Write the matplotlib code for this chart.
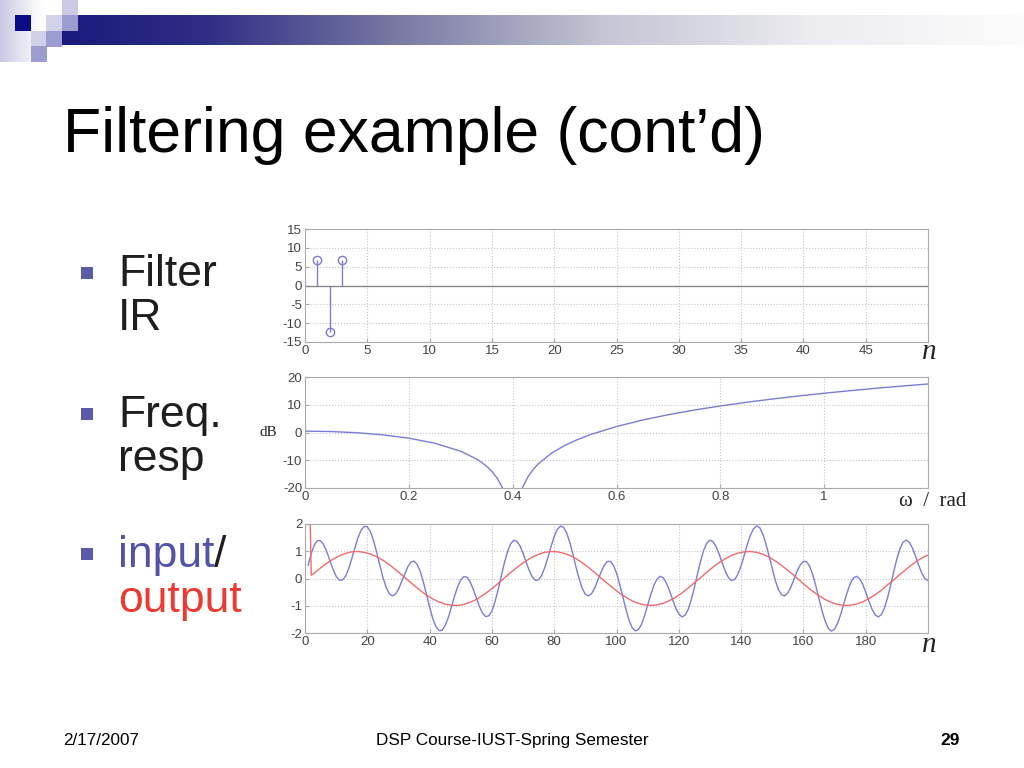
import matplotlib.pyplot as plt
from matplotlib.patches import Rectangle
from matplotlib.colors import LinearSegmentedColormap
import numpy as np

plt.rcParams['axes.unicode_minus'] = False

# filter impulse response (stem plot)
ir_n = [1, 2, 3]
ir_h = [6.7, -12.3, 6.7]

# magnitude response in dB
w = [0.0, 0.05, 0.1, 0.15, 0.2, 0.25, 0.3, 0.33, 0.34, 0.35, 0.36, 0.37, 0.38, 0.385,
     0.415, 0.42, 0.43, 0.44, 0.45, 0.475, 0.5, 0.525, 0.55, 0.6, 0.65, 0.7, 0.75,
     0.8, 0.85, 0.9, 0.95, 1.0, 1.05, 1.1, 1.15, 1.2]
h_db = [0.49, 0.35, -0.08, -0.85, -2.04, -3.86, -6.76, -9.51, -10.73, -12.2, -14.03,
        -16.42, -19.84, -22.28, -21.98, -19.43, -15.81, -13.21, -11.18, -7.42, -4.69,
        -2.54, -0.74, 2.16, 4.48, 6.42, 8.09, 9.56, 10.88, 12.07, 13.15, 14.15, 15.08,
        15.94, 16.74, 17.48]

# input signal (blue), n = 1..200
in_n = list(range(1, 201))
x_in = [0.49, 0.92, 1.23, 1.39, 1.39, 1.24, 0.98, 0.66, 0.34, 0.08,
        -0.06, -0.06, 0.08, 0.35, 0.72, 1.12, 1.49, 1.77, 1.91, 1.90,
        1.72, 1.39, 0.97, 0.50, 0.05, -0.31, -0.55, -0.64, -0.58, -0.40,
        -0.12, 0.17, 0.43, 0.60, 0.64, 0.52, 0.26, -0.13, -0.58, -1.04,
        -1.46, -1.76, -1.91, -1.90, -1.73, -1.43, -1.05, -0.65, -0.30, -0.05,
        0.07, 0.05, -0.12, -0.39, -0.71, -1.03, -1.27, -1.40, -1.37, -1.19,
        -0.85, -0.41, 0.08, 0.57, 0.98, 1.27, 1.40, 1.37, 1.20, 0.93,
        0.60, 0.29, 0.05, -0.07, -0.05, 0.12, 0.41, 0.78, 1.18, 1.54,
        1.80, 1.92, 1.88, 1.67, 1.33, 0.89, 0.42, -0.01, -0.36, -0.58,
        -0.64, -0.56, -0.35, -0.07, 0.22, 0.47, 0.62, 0.63, 0.49, 0.20,
        -0.20, -0.66, -1.12, -1.52, -1.80, -1.92, -1.88, -1.69, -1.37, -0.98,
        -0.59, -0.25, -0.02, 0.08, 0.03, -0.16, -0.44, -0.77, -1.08, -1.30,
        -1.41, -1.35, -1.14, -0.78, -0.33, 0.17, 0.64, 1.04, 1.30, 1.41,
        1.35, 1.16, 0.88, 0.55, 0.25, 0.02, -0.08, -0.03, 0.16, 0.47,
        0.85, 1.25, 1.59, 1.83, 1.93, 1.86, 1.62, 1.26, 0.81, 0.35,
        -0.08, -0.41, -0.60, -0.64, -0.53, -0.31, -0.02, 0.27, 0.50, 0.63,
        0.62, 0.45, 0.14, -0.27, -0.74, -1.19, -1.57, -1.83, -1.93, -1.86,
        -1.64, -1.31, -0.91, -0.53, -0.20, 0.01, 0.08, 0.00, -0.20, -0.50,
        -0.82, -1.12, -1.33, -1.41, -1.33, -1.09, -0.71, -0.25, 0.25, 0.72,
        1.09, 1.33, 1.41, 1.33, 1.12, 0.82, 0.49, 0.20, 0.00, -0.08]

# output signal (red); the first sample runs off the top of the axes
out_n = [1, 2] + list(range(3, 200, 2)) + [200]
y_out = [6.0, 0.12,
         0.20, 0.39, 0.56, 0.71, 0.83, 0.92, 0.98, 0.99, 0.96, 0.90,
         0.80, 0.67, 0.51, 0.33, 0.14, -0.06, -0.25, -0.44, -0.61, -0.75,
         -0.86, -0.94, -0.98, -0.99, -0.95, -0.87, -0.77, -0.62, -0.46, -0.28,
         -0.08, 0.12, 0.31, 0.49, 0.65, 0.79, 0.89, 0.96, 0.99, 0.98,
         0.93, 0.85, 0.73, 0.58, 0.41, 0.22, 0.02, -0.17, -0.36, -0.54,
         -0.69, -0.82, -0.91, -0.97, -0.99, -0.97, -0.91, -0.81, -0.69, -0.53,
         -0.35, -0.16, 0.03, 0.23, 0.42, 0.59, 0.73, 0.85, 0.93, 0.98,
         0.99, 0.96, 0.89, 0.78, 0.64, 0.48, 0.30, 0.11, -0.09, -0.29,
         -0.47, -0.63, -0.77, -0.88, -0.95, -0.99, -0.98, -0.94, -0.86, -0.74,
         -0.60, -0.43, -0.24, -0.05, 0.15, 0.34, 0.52, 0.68, 0.81,
         0.86]

ir_xticks = [0, 5, 10, 15, 20, 25, 30, 35, 40, 45]
ir_yticks = [-15, -10, -5, 0, 5, 10, 15]
fr_xticks = [0, 0.2, 0.4, 0.6, 0.8, 1]
fr_xlabels = ['0', '0.2', '0.4', '0.6', '0.8', '1']
fr_yticks = [-20, -10, 0, 10, 20]
io_xticks = [0, 20, 40, 60, 80, 100, 120, 140, 160, 180]
io_yticks = [-2, -1, 0, 1, 2]

bullets = ['Filter\nIR', 'Freq.\nresp']

BLUE = '#7c7cd6'
RED = '#ef6b6b'
SANS = ['Liberation Sans', 'DejaVu Sans']
SERIF = ['Liberation Serif', 'DejaVu Serif']

fig = plt.figure(figsize=(10.24, 7.68), dpi=100)

# slide background, drawn in pixel coordinates
bg = fig.add_axes([0, 0, 1, 1])
bg.axis('off')
barcmap = LinearSegmentedColormap.from_list(
    'bar', [(0.0, '#1a1a7c'), (0.15, '#2e2e86'), (0.35, '#7a7aa4'),
            (0.56, '#c4c4d4'), (0.78, '#ececf1'), (1.0, '#fcfcfc')])
bg.imshow(np.linspace(0, 1, 512).reshape(1, -1), cmap=barcmap, aspect='auto',
          extent=(62, 1024, 45, 15))
fadecmap = LinearSegmentedColormap.from_list('fade', ['#c9c9e4', '#ffffff'])
bg.imshow(np.linspace(0, 1, 64).reshape(1, -1), cmap=fadecmap, aspect='auto',
          extent=(0, 42, 62, 0))
squares = [(15, 15, '#0a0a84'), (62, 0, '#cbcbe6'), (46, 15, '#d2d2ea'),
           (62, 15, '#9c9cd0'), (31, 31, '#d0d0e8'), (46, 31, '#9c9cd0'),
           (31, 46, '#9c9cd0')]
for sx, sy, sc in squares:
    bg.add_patch(Rectangle((sx, sy), 15.5, 15.5, color=sc, lw=0))
bg.set_xlim(0, 1024)
bg.set_ylim(768, 0)

bg.text(63, 152, 'Filtering example (cont\u2019d)', fontsize=45, family=SANS,
        va='baseline', color='black')

for txt, base in zip(bullets, [286, 427]):
    bg.add_patch(Rectangle((81, base - 19), 12, 12, color='#5b5ba8', lw=0))
    bg.text(118, base, txt.split('\n')[0], fontsize=32, family=SANS,
            va='baseline', color='#1e1e1e')
    bg.text(118, base + 44, txt.split('\n')[1], fontsize=32, family=SANS,
            va='baseline', color='#1e1e1e')
bg.add_patch(Rectangle((81, 567 - 19), 12, 12, color='#5b5ba8', lw=0))
t_in = bg.text(118, 567, 'input', fontsize=32, family=SANS, va='baseline',
               color='#5252aa')
bg.annotate('/', xy=(1, 0), xycoords=t_in, ha='left', va='bottom',
            fontsize=32, family=SANS, color='#1e1e1e')
bg.text(118, 612, 'output', fontsize=32, family=SANS, va='baseline',
        color='#ec3a32')

bg.text(63, 745, '2/17/2007', fontsize=12.3, family=SANS, va='baseline')
bg.text(512, 745, 'DSP Course-IUST-Spring Semester', fontsize=12.3, family=SANS,
        va='baseline', ha='center')
bg.text(960, 745, '29', fontsize=12.5, family=SANS, weight='bold',
        va='baseline', ha='right')

bg.text(929, 352, 'n', fontsize=21, family=SERIF, style='italic',
        va='center', ha='center', color='#222222')
bg.text(929, 645, 'n', fontsize=21, family=SERIF, style='italic',
        va='center', ha='center', color='#222222')
bg.text(966, 506, '\u03c9  /  rad', fontsize=15, family=SERIF, va='baseline',
        ha='right', color='#222222')
bg.text(268, 432, 'dB', fontsize=11, family=SERIF, va='center', ha='center',
        color='#222222')


def style(ax):
    ax.grid(True, linestyle=':', color='#c4c4c4', linewidth=0.8)
    ax.set_axisbelow(True)
    for s in ax.spines.values():
        s.set_color('#aaaaaa')
        s.set_linewidth(0.8)
    ax.tick_params(direction='in', length=3, color='#aaaaaa', labelsize=9.5,
                   labelcolor='#444444', pad=2)
    for lab in ax.get_xticklabels() + ax.get_yticklabels():
        lab.set_family(SANS)


# impulse response
ax1 = fig.add_axes([305 / 1024, 1 - 342 / 768, 623 / 1024, 113 / 768])
ax1.axhline(0, color='#8a8a8a', lw=1)
ml, sl, bl = ax1.stem(ir_n, ir_h, linefmt='-', markerfmt='o', basefmt=' ')
plt.setp(sl, color=BLUE, lw=1)
plt.setp(ml, markerfacecolor='none', markeredgecolor=BLUE, markersize=6)
ax1.set_xlim(0, 50)
ax1.set_ylim(-15, 15)
ax1.set_xticks(ir_xticks)
ax1.set_yticks(ir_yticks)
style(ax1)

# frequency response
ax2 = fig.add_axes([305 / 1024, 1 - 488 / 768, 623 / 1024, 111 / 768])
ax2.plot(w, h_db, color=BLUE, lw=1)
ax2.set_xlim(0, 1.2)
ax2.set_ylim(-20, 20)
ax2.set_xticks(fr_xticks)
ax2.set_xticklabels(fr_xlabels)
ax2.set_yticks(fr_yticks)
style(ax2)

# input / output
ax3 = fig.add_axes([305 / 1024, 1 - 633 / 768, 623 / 1024, 109 / 768])
ax3.plot(in_n, x_in, color=BLUE, lw=1)
ax3.plot(out_n, y_out, color=RED, lw=1)
ax3.set_xlim(0, 200)
ax3.set_ylim(-2, 2)
ax3.set_xticks(io_xticks)
ax3.set_yticks(io_yticks)
style(ax3)

fig.savefig('out.png', dpi=100)
